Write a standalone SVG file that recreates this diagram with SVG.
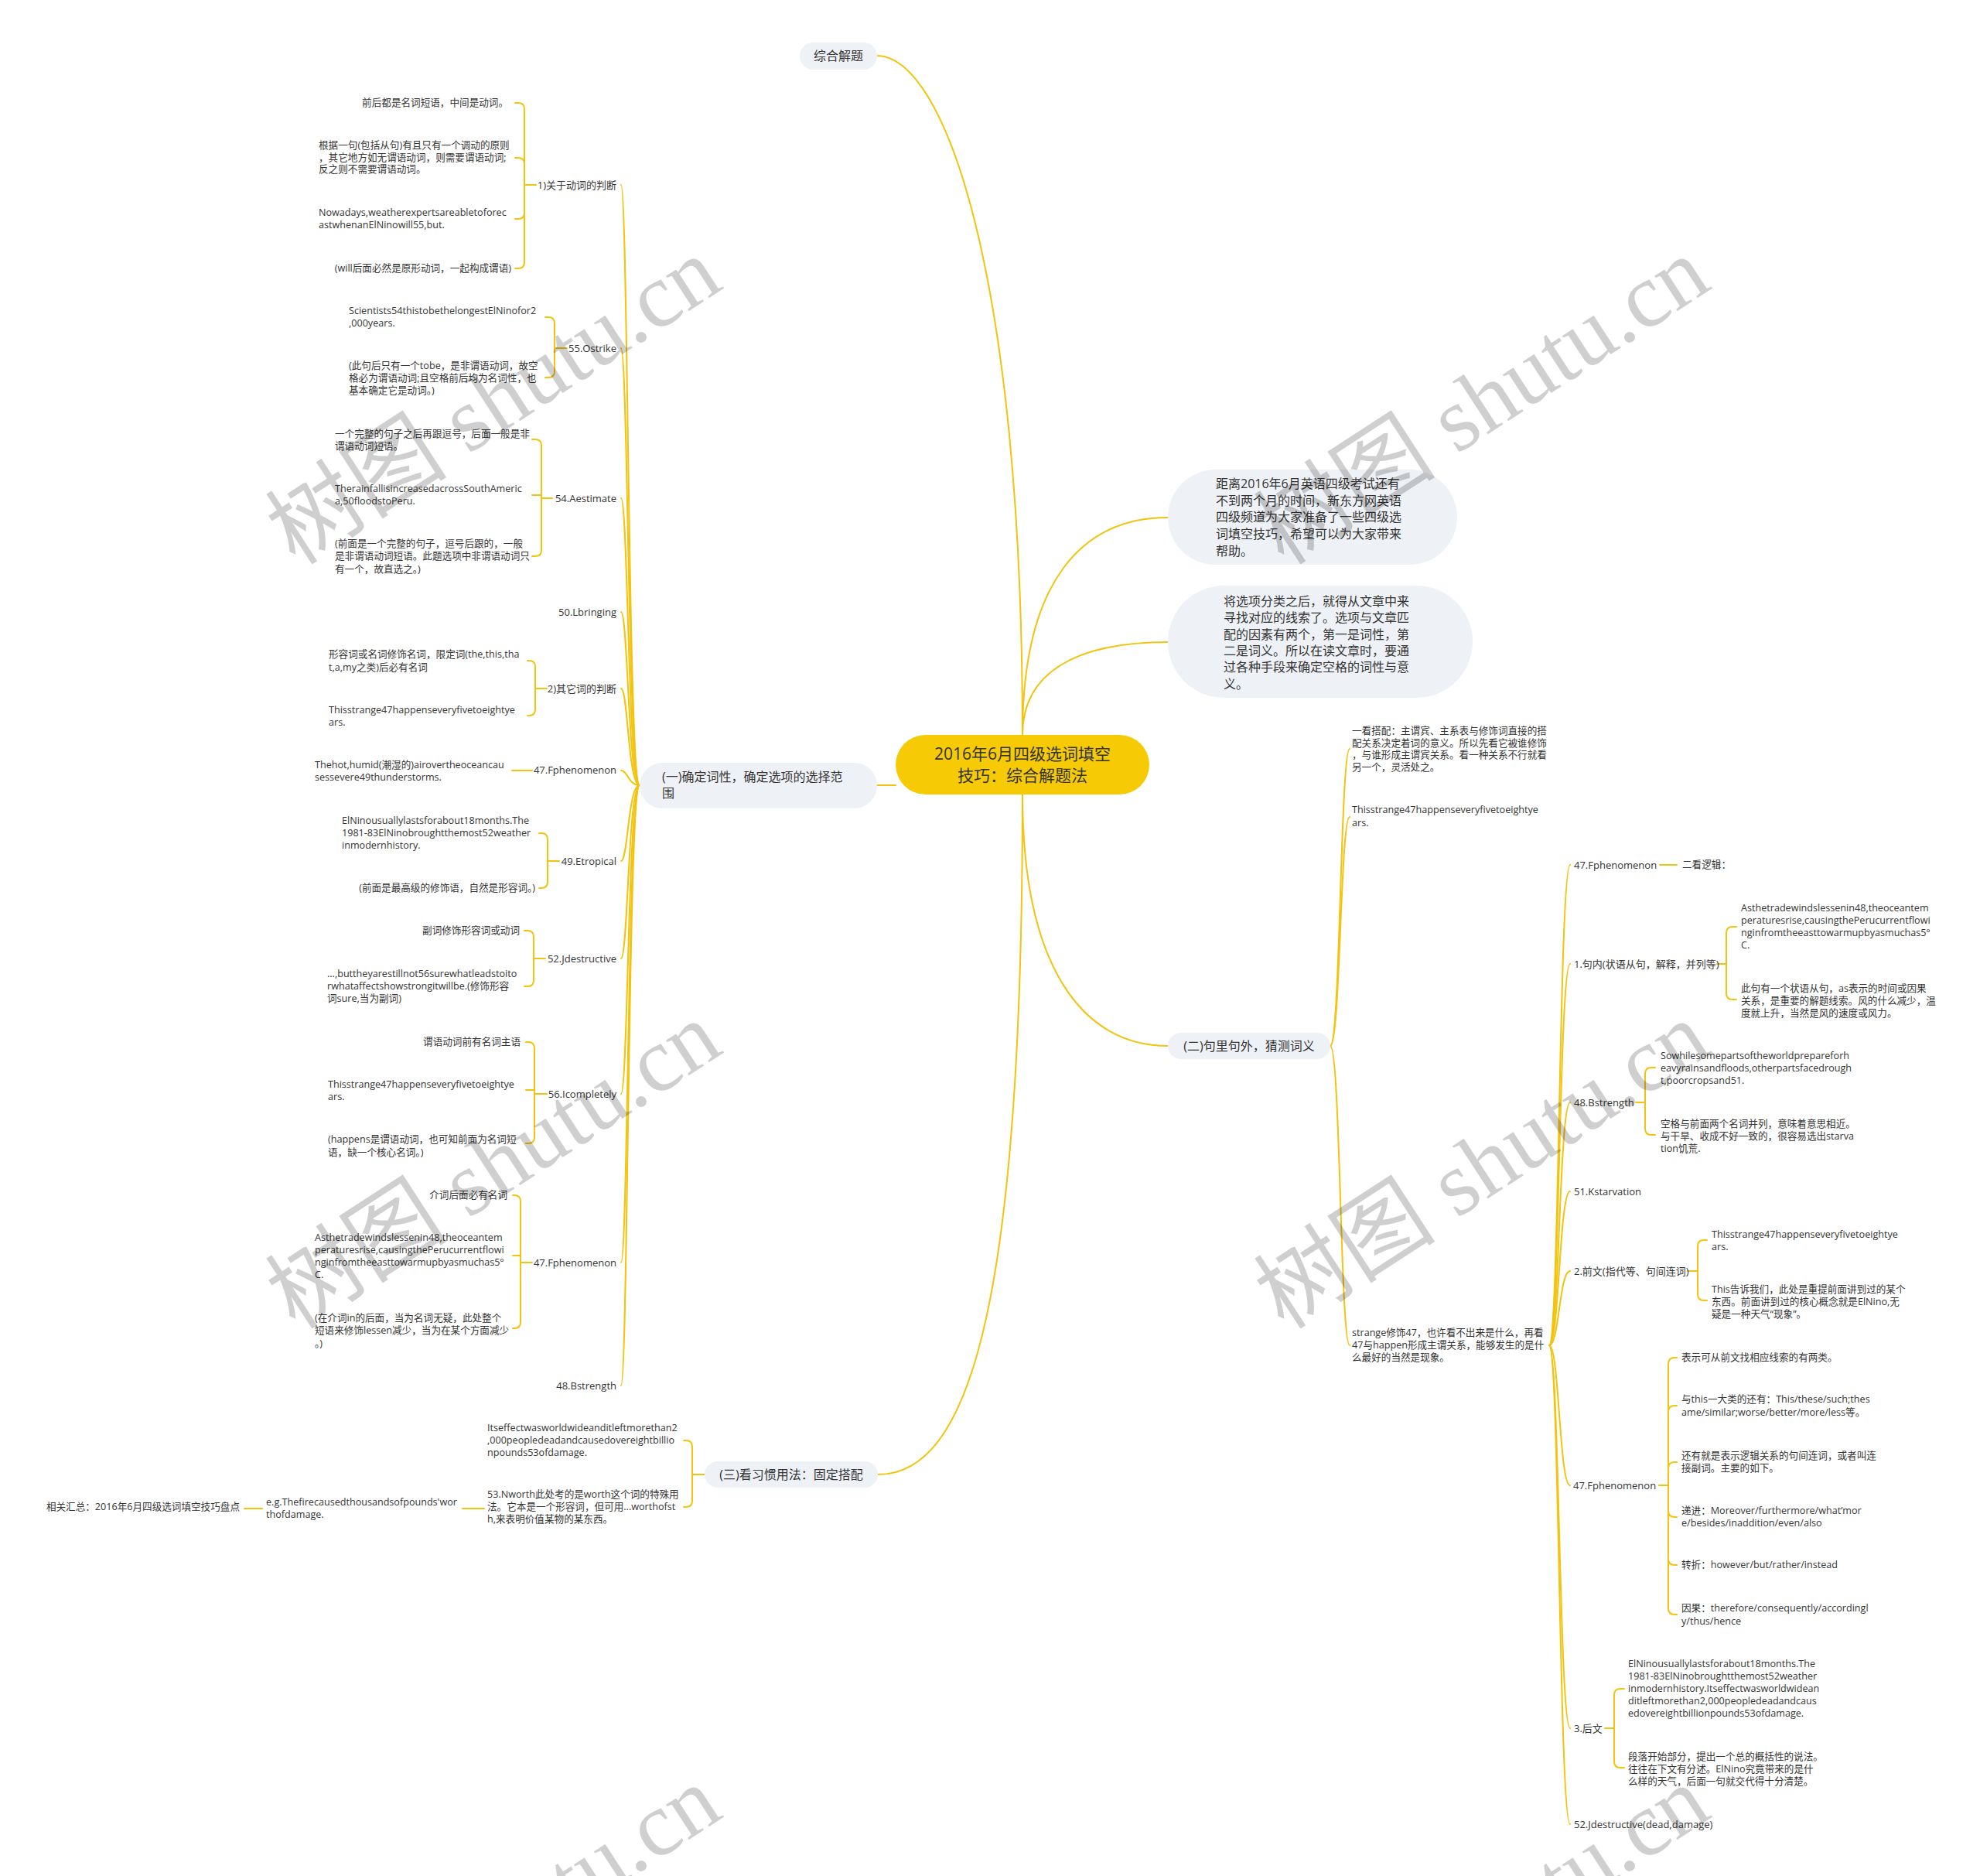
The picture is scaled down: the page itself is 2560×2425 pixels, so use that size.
<svg xmlns="http://www.w3.org/2000/svg" width="2560" height="2425" viewBox="0 0 2560 2425">
<style>
.bg{fill:#fff}
.ln{fill:none;stroke:#f2c30f;stroke-width:2;stroke-linecap:round}
.t{font-family:"Open Sans","Noto Sans CJK SC",sans-serif;fill:#333}
.s12{font-size:12.6px}
.s13{font-size:13px}
.s16{font-size:16px}
.s21{font-size:21px}
.pill{fill:#eef1f5}
.root{fill:#f6cb05}
.e{text-anchor:end}
.m{text-anchor:middle}
.wm{font-family:"Liberation Serif","Noto Sans CJK SC",serif;font-size:118px;fill:#000;fill-opacity:.19;text-anchor:middle}
</style>
<rect class="bg" width="2560" height="2425"/>
<g id="connectors" class="ln">
<path d="M1134 72C1220 72 1322 350 1322 950"/>
<path d="M1322 950C1322 750 1400 669 1510 669"/>
<path d="M1322 950C1322 870 1390 830 1510 830"/>
<path d="M1322 1027C1322 1250 1400 1352 1510 1352"/>
<path d="M1322 1027C1322 1700 1250 1906 1135 1906"/>
<path d="M1134 1015H1158"/>
<path d="M827 1015C812 1015 812 239 803 239"/>
<path d="M827 1015C812 1015 812 450 803 450"/>
<path d="M827 1015C812 1015 812 644 803 644"/>
<path d="M827 1015C812 1015 812 791 803 791"/>
<path d="M827 1015C812 1015 812 890 803 890"/>
<path d="M827 1015C812 1015 812 996 803 996"/>
<path d="M827 1015C812 1015 812 1113 803 1113"/>
<path d="M827 1015C812 1015 812 1239 803 1239"/>
<path d="M827 1015C812 1015 812 1414 803 1414"/>
<path d="M827 1015C812 1015 812 1632 803 1632"/>
<path d="M827 1015C812 1015 812 1791 803 1791"/>
<path d="M693 239H678V141Q678 133 670 133H666M678 239V212Q678 204 670 204H666M678 239V275Q678 283 670 283H666M678 239V339Q678 347 670 347H666"/>
<path d="M733 450H717V418Q717 410 709 410H705M717 450V480Q717 488 709 488H705"/>
<path d="M714 644H700V576Q700 568 692 568H688M700 644V640H688M700 644V711Q700 719 692 719H688"/>
<path d="M707 890H692V862Q692 854 684 854H682M692 890V917Q692 925 684 925H682"/>
<path d="M688 996H662"/>
<path d="M723 1113H708V1085Q708 1077 700 1077H697M708 1113V1140Q708 1148 700 1148H697"/>
<path d="M705 1239H690V1211Q690 1203 682 1203H678M690 1239V1267Q690 1275 682 1275H678"/>
<path d="M707 1414H691V1355Q691 1347 683 1347H680M691 1414V1409H680M691 1414V1470Q691 1478 683 1478H680"/>
<path d="M688 1632H673V1553Q673 1545 665 1545H663M673 1632V1623H663M673 1632V1709Q673 1717 665 1717H663"/>
<path d="M911 1906H895V1870Q895 1862 887 1862H884M895 1906V1940Q895 1948 887 1948H884"/>
<path d="M598 1950H626"/>
<path d="M316 1950H339"/>
<path d="M1720 1352C1733 1352 1733 968 1745 968"/>
<path d="M1720 1352C1733 1352 1733 1056 1745 1056"/>
<path d="M1720 1352C1733 1352 1733 1739 1745 1739"/>
<path d="M2003 1739C2016 1739 2016 1118 2030 1118"/>
<path d="M2003 1739C2016 1739 2016 1246 2030 1246"/>
<path d="M2003 1739C2016 1739 2016 1425 2030 1425"/>
<path d="M2003 1739C2016 1739 2016 1540 2030 1540"/>
<path d="M2003 1739C2016 1739 2016 1643 2030 1643"/>
<path d="M2003 1739C2016 1739 2016 1920 2030 1920"/>
<path d="M2003 1739C2016 1739 2016 2234 2030 2234"/>
<path d="M2003 1739C2016 1739 2016 2358 2030 2358"/>
<path d="M2146 1118H2168"/>
<path d="M2220 1246H2232V1206Q2232 1198 2240 1198H2245M2232 1246V1284Q2232 1292 2240 1292H2245"/>
<path d="M2115 1425H2127V1388Q2127 1380 2135 1380H2140M2127 1425V1459Q2127 1467 2135 1467H2140"/>
<path d="M2182 1643H2195V1611Q2195 1603 2203 1603H2207M2195 1643V1673Q2195 1681 2203 1681H2207"/>
<path d="M2145 1920H2157V1763Q2157 1755 2165 1755H2168M2157 1920V1825Q2157 1817 2165 1817H2168M2157 1920V1898Q2157 1890 2165 1890H2168M2157 1920V1953Q2157 1961 2165 1961H2168M2157 1920V2015Q2157 2023 2165 2023H2168M2157 1920V2079Q2157 2087 2165 2087H2168"/>
<path d="M2075 2234H2087V2191Q2087 2183 2095 2183H2100M2087 2234V2277Q2087 2285 2095 2285H2100"/>
</g>

<g id="root">
<rect class="root" x="1158" y="950" width="328" height="77" rx="38.5"/>
<text class="t s21 m"><tspan x="1322" y="982">2016年6月四级选词填空</tspan><tspan x="1322" y="1010">技巧：综合解题法</tspan></text>
</g>
<g id="n-zonghe">
<rect class="pill" x="1034" y="55" width="100" height="35" rx="17.5"/>
<text class="t s16 m" x="1084" y="78">综合解题</text>
</g>
<g id="n-intro1">
<rect class="pill" x="1510" y="607" width="374" height="123" rx="61.5"/>
<text class="t s16"><tspan x="1572" y="631">距离2016年6月英语四级考试还有</tspan><tspan x="1572" y="653">不到两个月的时间，新东方网英语</tspan><tspan x="1572" y="674">四级频道为大家准备了一些四级选</tspan><tspan x="1572" y="696">词填空技巧，希望可以为大家带来</tspan><tspan x="1572" y="718">帮助。</tspan></text>
</g>
<g id="n-intro2">
<rect class="pill" x="1510" y="757" width="394" height="145" rx="72.5"/>
<text class="t s16"><tspan x="1582" y="783">将选项分类之后，就得从文章中来</tspan><tspan x="1582" y="804">寻找对应的线索了。选项与文章匹</tspan><tspan x="1582" y="826">配的因素有两个，第一是词性，第</tspan><tspan x="1582" y="847">二是词义。所以在读文章时，要通</tspan><tspan x="1582" y="868">过各种手段来确定空格的词性与意</tspan><tspan x="1582" y="890">义。</tspan></text>
</g>
<g id="n-yi">
<rect class="pill" x="827" y="986" width="307" height="59" rx="29.5"/>
<text class="t s16"><tspan x="856" y="1010">(一)确定词性，确定选项的选择范</tspan><tspan x="856" y="1031">围</tspan></text>
</g>
<g id="n-er">
<rect class="pill" x="1510" y="1335" width="210" height="34" rx="17"/>
<text class="t s16 m" x="1615" y="1358">(二)句里句外，猜测词义</text>
</g>
<g id="n-san">
<rect class="pill" x="911" y="1889" width="224" height="34" rx="17"/>
<text class="t s16 m" x="1023" y="1912">(三)看习惯用法：固定搭配</text>
</g>

<g id="left-labels" class="t s13 e">
<text id="l1" x="797" y="244">1)关于动词的判断</text>
<text id="l2" x="797" y="455">55.Ostrike</text>
<text id="l3" x="797" y="649">54.Aestimate</text>
<text id="l4" x="797" y="796">50.Lbringing</text>
<text id="l5" x="797" y="895">2)其它词的判断</text>
<text id="l6" x="797" y="1000">47.Fphenomenon</text>
<text id="l7" x="797" y="1118">49.Etropical</text>
<text id="l8" x="797" y="1244">52.Jdestructive</text>
<text id="l9" x="797" y="1419">56.Icompletely</text>
<text id="l10" x="797" y="1637">47.Fphenomenon</text>
<text id="l11" x="797" y="1796">48.Bstrength</text>
</g>

<g id="left-leaves" class="t s12">
<text id="g1a" class="e" x="657" y="137">前后都是名词短语，中间是动词。</text>
<text id="g1b"><tspan x="412" y="192">根据一句(包括从句)有且只有一个调动的原则</tspan><tspan x="412" y="208">，其它地方如无谓语动词，则需要谓语动词;</tspan><tspan x="412" y="223">反之则不需要谓语动词。</tspan></text>
<text id="g1c"><tspan x="412" y="279">Nowadays,weatherexpertsareabletoforec</tspan><tspan x="412" y="295">astwhenanElNinowill55,but.</tspan></text>
<text id="g1d" class="e" x="661" y="351">(will后面必然是原形动词，一起构成谓语)</text>
<text id="g2a"><tspan x="451" y="406">Scientists54thistobethelongestElNinofor2</tspan><tspan x="451" y="422">,000years.</tspan></text>
<text id="g2b"><tspan x="451" y="477">(此句后只有一个tobe，是非谓语动词，故空</tspan><tspan x="451" y="493">格必为谓语动词;且空格前后均为名词性，也</tspan><tspan x="451" y="509">基本确定它是动词。)</tspan></text>
<text id="g3a"><tspan x="433" y="565">一个完整的句子之后再跟逗号，后面一般是非</tspan><tspan x="433" y="581">谓语动词短语。</tspan></text>
<text id="g3b"><tspan x="433" y="636">TherainfallisincreasedacrossSouthAmeric</tspan><tspan x="433" y="652">a,50floodstoPeru.</tspan></text>
<text id="g3c"><tspan x="433" y="707">(前面是一个完整的句子，逗号后跟的，一般</tspan><tspan x="433" y="723">是非谓语动词短语。此题选项中非谓语动词只</tspan><tspan x="433" y="740">有一个，故直选之。)</tspan></text>
<text id="g5a"><tspan x="425" y="850">形容词或名词修饰名词，限定词(the,this,tha</tspan><tspan x="425" y="867">t,a,my之类)后必有名词</tspan></text>
<text id="g5b"><tspan x="425" y="922">Thisstrange47happenseveryfivetoeightye</tspan><tspan x="425" y="938">ars.</tspan></text>
<text id="g6a"><tspan x="407" y="993">Thehot,humid(潮湿的)airovertheoceancau</tspan><tspan x="407" y="1009">sessevere49thunderstorms.</tspan></text>
<text id="g7a"><tspan x="442" y="1065">ElNinousuallylastsforabout18months.The</tspan><tspan x="442" y="1081">1981-83ElNinobroughtthemost52weather</tspan><tspan x="442" y="1097">inmodernhistory.</tspan></text>
<text id="g7b" class="e" x="692" y="1152">(前面是最高级的修饰语，自然是形容词。)</text>
<text id="g8a" class="e" x="672" y="1207">副词修饰形容词或动词</text>
<text id="g8b"><tspan x="423" y="1263">...,buttheyarestillnot56surewhatleadstoito</tspan><tspan x="423" y="1279">rwhataffectshowstrongitwillbe.(修饰形容</tspan><tspan x="423" y="1295">词sure,当为副词)</tspan></text>
<text id="g9a" class="e" x="673" y="1351">谓语动词前有名词主语</text>
<text id="g9b"><tspan x="424" y="1406">Thisstrange47happenseveryfivetoeightye</tspan><tspan x="424" y="1422">ars.</tspan></text>
<text id="g9c"><tspan x="424" y="1477">(happens是谓语动词，也可知前面为名词短</tspan><tspan x="424" y="1494">语，缺一个核心名词。)</tspan></text>
<text id="g10a" class="e" x="656" y="1549">介词后面必有名词</text>
<text id="g10b"><tspan x="407" y="1604">Asthetradewindslessenin48,theoceantem</tspan><tspan x="407" y="1620">peraturesrise,causingthePerucurrentflowi</tspan><tspan x="407" y="1636">nginfromtheeasttowarmupbyasmuchas5°</tspan><tspan x="407" y="1652">C.</tspan></text>
<text id="g10c"><tspan x="407" y="1708">(在介词in的后面，当为名词无疑，此处整个</tspan><tspan x="407" y="1724">短语来修饰lessen减少，当为在某个方面减少</tspan><tspan x="407" y="1741">。)</tspan></text>
</g>

<g id="san-leaves" class="t s12">
<text id="s1"><tspan x="630" y="1850">Itseffectwasworldwideanditleftmorethan2</tspan><tspan x="630" y="1866">,000peopledeadandcausedovereightbillio</tspan><tspan x="630" y="1882">npounds53ofdamage.</tspan></text>
<text id="s2"><tspan x="630" y="1936">53.Nworth此处考的是worth这个词的特殊用</tspan><tspan x="630" y="1952">法。它本是一个形容词，但可用...worthofst</tspan><tspan x="630" y="1968">h,来表明价值某物的某东西。</tspan></text>
<text id="s3"><tspan x="344" y="1946">e.g.Thefirecausedthousandsofpounds'wor</tspan><tspan x="344" y="1962">thofdamage.</tspan></text>
<text id="s4" class="e" x="310" y="1952">相关汇总：2016年6月四级选词填空技巧盘点</text>
</g>

<g id="er-leaves" class="t s12">
<text id="e1"><tspan x="1748" y="949">一看搭配：主谓宾、主系表与修饰词直接的搭</tspan><tspan x="1748" y="965">配关系决定着词的意义。所以先看它被谁修饰</tspan><tspan x="1748" y="980">，与谁形成主谓宾关系。看一种关系不行就看</tspan><tspan x="1748" y="996">另一个，灵活处之。</tspan></text>
<text id="e2"><tspan x="1748" y="1051">Thisstrange47happenseveryfivetoeightye</tspan><tspan x="1748" y="1068">ars.</tspan></text>
<text id="e3"><tspan x="1748" y="1727">strange修饰47，也许看不出来是什么，再看</tspan><tspan x="1748" y="1743">47与happen形成主谓关系，能够发生的是什</tspan><tspan x="1748" y="1759">么最好的当然是现象。</tspan></text>
</g>

<g id="right-labels" class="t s13">
<text id="r1" x="2035" y="1123">47.Fphenomenon</text>
<text id="r2" x="2035" y="1251">1.句内(状语从句，解释，并列等)</text>
<text id="r3" x="2035" y="1430">48.Bstrength</text>
<text id="r4" x="2035" y="1545">51.Kstarvation</text>
<text id="r5" x="2035" y="1648">2.前文(指代等、句间连词)</text>
<text id="r6" x="2034" y="1925">47.Fphenomenon</text>
<text id="r7" x="2035" y="2239">3.后文</text>
<text id="r8" x="2035" y="2363">52.Jdestructive(dead,damage)</text>
</g>

<g id="right-leaves" class="t s12">
<text id="r1a" x="2175" y="1122">二看逻辑：</text>
<text id="r2a"><tspan x="2251" y="1178">Asthetradewindslessenin48,theoceantem</tspan><tspan x="2251" y="1194">peraturesrise,causingthePerucurrentflowi</tspan><tspan x="2251" y="1210">nginfromtheeasttowarmupbyasmuchas5°</tspan><tspan x="2251" y="1226">C.</tspan></text>
<text id="r2b"><tspan x="2251" y="1282">此句有一个状语从句，as表示的时间或因果</tspan><tspan x="2251" y="1298">关系，是重要的解题线索。风的什么减少，温</tspan><tspan x="2251" y="1314">度就上升，当然是风的速度或风力。</tspan></text>
<text id="r3a"><tspan x="2147" y="1369">Sowhilesomepartsoftheworldprepareforh</tspan><tspan x="2147" y="1385">eavyrainsandfloods,otherpartsfacedrough</tspan><tspan x="2147" y="1401">t,poorcropsand51.</tspan></text>
<text id="r3b"><tspan x="2147" y="1457">空格与前面两个名词并列，意味着意思相近。</tspan><tspan x="2147" y="1473">与干旱、收成不好一致的，很容易选出starva</tspan><tspan x="2147" y="1489">tion饥荒.</tspan></text>
<text id="r5a"><tspan x="2213" y="1600">Thisstrange47happenseveryfivetoeightye</tspan><tspan x="2213" y="1616">ars.</tspan></text>
<text id="r5b"><tspan x="2213" y="1671">This告诉我们，此处是重提前面讲到过的某个</tspan><tspan x="2213" y="1687">东西。前面讲到过的核心概念就是ElNino,无</tspan><tspan x="2213" y="1703">疑是一种天气“现象”。</tspan></text>
<text id="r6a" x="2174" y="1759">表示可从前文找相应线索的有两类。</text>
<text id="r6b"><tspan x="2174" y="1813">与this一大类的还有：This/these/such;thes</tspan><tspan x="2174" y="1830">ame/similar;worse/better/more/less等。</tspan></text>
<text id="r6c"><tspan x="2174" y="1886">还有就是表示逻辑关系的句间连词，或者叫连</tspan><tspan x="2174" y="1902">接副词。主要的如下。</tspan></text>
<text id="r6d"><tspan x="2174" y="1957">递进：Moreover/furthermore/what’mor</tspan><tspan x="2174" y="1973">e/besides/inaddition/even/also</tspan></text>
<text id="r6e" x="2174" y="2027">转折：however/but/rather/instead</text>
<text id="r6f"><tspan x="2174" y="2083">因果：therefore/consequently/accordingl</tspan><tspan x="2174" y="2100">y/thus/hence</tspan></text>
<text id="r7a"><tspan x="2105" y="2155">ElNinousuallylastsforabout18months.The</tspan><tspan x="2105" y="2171">1981-83ElNinobroughtthemost52weather</tspan><tspan x="2105" y="2187">inmodernhistory.Itseffectwasworldwidean</tspan><tspan x="2105" y="2203">ditleftmorethan2,000peopledeadandcaus</tspan><tspan x="2105" y="2219">edovereightbillionpounds53ofdamage.</tspan></text>
<text id="r7b"><tspan x="2105" y="2275">段落开始部分，提出一个总的概括性的说法。</tspan><tspan x="2105" y="2291">往往在下文有分述。ElNino究竟带来的是什</tspan><tspan x="2105" y="2307">么样的天气，后面一句就交代得十分清楚。</tspan></text>
</g>

<g id="watermarks" class="wm">
<text transform="translate(660 552) rotate(-33)">树图 shutu.cn</text>
<text transform="translate(1938 552) rotate(-33)">树图 shutu.cn</text>
<text transform="translate(660 1540) rotate(-33)">树图 shutu.cn</text>
<text transform="translate(1938 1540) rotate(-33)">树图 shutu.cn</text>
<text transform="translate(660 2528) rotate(-33)">树图 shutu.cn</text>
<text transform="translate(1938 2528) rotate(-33)">树图 shutu.cn</text>
</g>
</svg>
